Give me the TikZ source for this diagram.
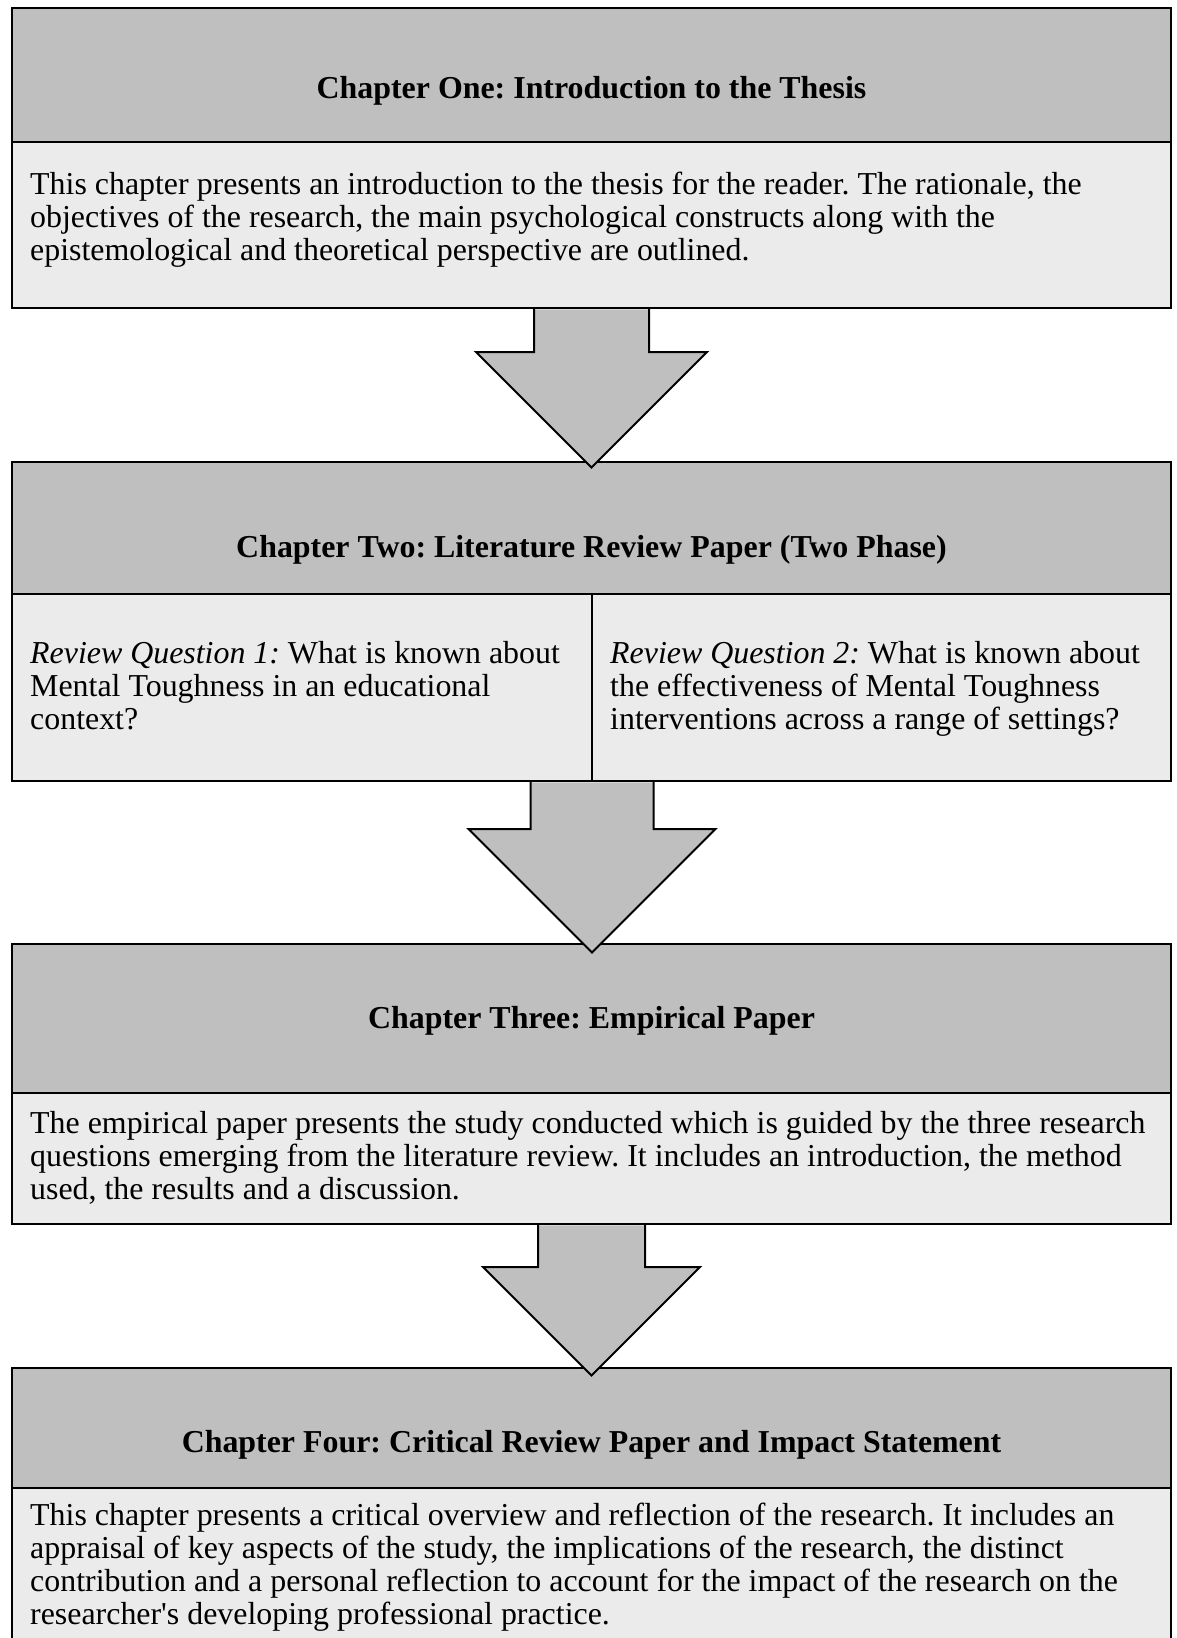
\documentclass[tikz,border=0pt]{standalone}
\usepackage{fontspec}
\setmainfont{Liberation Serif}
\usetikzlibrary{calc}
\definecolor{hdrgray}{RGB}{191,191,191}
\definecolor{bodygray}{RGB}{235,235,235}
% #1 source anchor, #2 shaft half width, #3 shaft length, #4 head half width
\newcommand{\bkarrow}[4]{%
  \fill[hdrgray] ($(#1)+(-#2,1.3)$) -- ($(#1)+(-#2,#3)$) -- ($(#1)+(-#4,#3)$)
     -- ($(#1)+(0,#3+#4)$) -- ($(#1)+(#4,#3)$) -- ($(#1)+(#2,#3)$) -- ($(#1)+(#2,1.3)$) -- cycle;
  \draw[arrline] ($(#1)+(-#2,0)$) -- ($(#1)+(-#2,#3)$) -- ($(#1)+(-#4,#3)$)
     -- ($(#1)+(0,#3+#4)$) -- ($(#1)+(#4,#3)$) -- ($(#1)+(#2,#3)$) -- ($(#1)+(#2,0)$);
}
\frenchspacing
\begin{document}
\begin{tikzpicture}[x=1pt,y=-1pt,
  box/.style={draw=black, line width=2.5pt, anchor=north west, inner sep=0pt, outer sep=0pt},
  hdr/.style={box, fill=hdrgray},
  bdy/.style={box, fill=bodygray},
  ttl/.style={font=\fontsize{31.9}{33}\selectfont\bfseries\frenchspacing, anchor=base, inner sep=0pt},
  txt/.style={font=\fontsize{31.9}{33}\selectfont\frenchspacing, anchor=base west, align=left, inner sep=0pt},
  arrline/.style={draw=black, line width=2pt, line join=miter},
]
\useasboundingbox (0,0) rectangle (1176,1638);
% Chapter One
\node[hdr, minimum width=1159pt, minimum height=134pt] (h1) at (12,8) {};
\node[bdy, minimum width=1159pt, minimum height=166pt] (b1) at (12,142) {};
\node[ttl] (t1) at (591.5,98) {Chapter One: Introduction to the Thesis};
% anchor = baseline of last line
\node[txt] (x1) at (30,260) {This chapter presents an introduction to the thesis for the reader. The rationale, the\\
objectives of the research, the main psychological constructs along with the\\
epistemological and theoretical perspective are outlined.};
% Chapter Two
\node[hdr, minimum width=1159pt, minimum height=132pt] (h2) at (12,462) {};
\node[bdy, minimum width=580pt, minimum height=187pt] (b2l) at (12,594) {};
\node[bdy, minimum width=579pt, minimum height=187pt] (b2r) at (592,594) {};
\node[ttl] (t2) at (591.5,557) {Chapter Two: Literature Review Paper (Two Phase)};
\node[txt] (q1) at (30,729) {\textit{Review Question 1:} What is known about\\
Mental Toughness in an educational\\
context?};
\node[txt] (q2) at (610,729) {\textit{Review Question 2:} What is known about\\
the effectiveness of Mental Toughness\\
interventions across a range of settings?};
% Chapter Three
\node[hdr, minimum width=1159pt, minimum height=149pt] (h3) at (12,944) {};
\node[bdy, minimum width=1159pt, minimum height=131pt] (b3) at (12,1093) {};
\node[ttl] (t3) at (591.5,1028) {Chapter Three: Empirical Paper};
\node[txt] (x3) at (30,1199) {The empirical paper presents the study conducted which is guided by the three research\\
questions emerging from the literature review. It includes an introduction, the method\\
used, the results and a discussion.};
% Chapter Four
\node[hdr, minimum width=1159pt, minimum height=120pt] (h4) at (12,1368) {};
\node[bdy, minimum width=1159pt, minimum height=180pt] (b4) at (12,1488) {};
\node[ttl] (t4) at (591.5,1452) {Chapter Four: Critical Review Paper and Impact Statement};
\node[txt] (x4) at (30,1624) {This chapter presents a critical overview and reflection of the research. It includes an\\
appraisal of key aspects of the study, the implications of the research, the distinct\\
contribution and a personal reflection to account for the impact of the research on the\\
researcher\textquotesingle s developing professional practice.};
% Block arrows
\bkarrow{b1.south}{57.5}{44}{115.5}
\bkarrow{b2l.south east}{61.5}{48}{123.5}
\bkarrow{b3.south}{53.5}{43}{108.5}
\end{tikzpicture}
\end{document}
